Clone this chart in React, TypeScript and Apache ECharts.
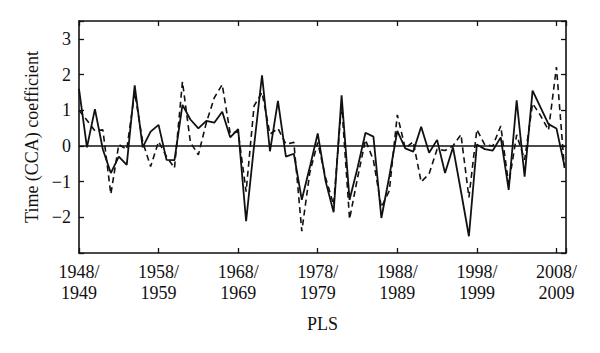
import React, { useEffect, useRef } from "react";
import * as echarts from "echarts";

const years: number[] = [];
for (let y = 1948; y <= 2009; y++) years.push(y);

const solidValues = [
  1.6, -0.04, 1.03, -0.1, -0.76, -0.3, -0.53, 1.7, -0.04, 0.4,
  0.59, -0.39, -0.4, 1.15, 0.74, 0.49, 0.7, 0.65, 0.96, 0.24,
  0.47, -2.11, 0.0, 1.98, -0.15, 1.26, -0.3, -0.22, -1.51, -0.6,
  0.35, -1.0, -1.86, 1.42, -1.51, -0.62, 0.37, 0.26, -2.02, -0.85,
  0.42, -0.07, -0.16, 0.54, -0.19, 0.17, -0.76, -0.04, -1.27, -2.53,
  0.04, -0.09, -0.13, 0.24, -1.23, 1.28, -0.86, 1.55, 1.08, 0.61,
  0.49, -0.55,
];

const dashedValues = [
  1.0, 0.72, 0.42, 0.45, -1.35, 0.04, -0.1, 1.5, 0.12, -0.58,
  0.12, -0.3, -0.62, 1.8, 0.1, -0.25, 0.65, 1.35, 1.72, 0.35,
  0.4, -1.28, 1.12, 1.5, 0.33, 0.49, 0.05, 0.1, -2.39, -0.75,
  0.1, -0.9, -1.65, 1.2, -2.05, -0.9, 0.17, -0.4, -1.72, -1.25,
  0.87, -0.07, 0.12, -1.01, -0.78, -0.09, -0.13, 0.0, 0.32, -1.44,
  0.46, 0.03, 0.0, 0.56, -1.08, 0.31, -0.39, 1.19, 0.85, 0.44,
  2.21, -0.62,
];

const xTickYears = [1948, 1958, 1968, 1978, 1988, 1998, 2008];
const yTickLabels = [-2, -1, 0, 1, 2, 3];

const FONT = "'Liberation Serif', 'Times New Roman', Times, serif";
const INK = "#111";

export default function App() {
  const ref = useRef<HTMLDivElement>(null);
  useEffect(() => {
    if (!ref.current) return;
    const chart = echarts.init(ref.current, null, { renderer: "svg" });
    const xBase = {
      type: "value",
      min: 1948,
      max: 2009.2,
      interval: 10,
      splitLine: { show: false },
      axisLine: { show: true, onZero: false, lineStyle: { color: INK, width: 1.6 } },
      axisTick: { show: true, inside: true, length: 5, lineStyle: { color: INK, width: 1.3 } },
    };
    const yBase = {
      type: "value",
      min: -3,
      max: 3.5,
      interval: 1,
      splitLine: { show: false },
      axisLine: { show: true, onZero: false, lineStyle: { color: INK, width: 1.6 } },
      axisTick: { show: true, inside: true, length: 5, lineStyle: { color: INK, width: 1.3 } },
    };
    chart.setOption({
      animation: false,
      backgroundColor: "#fff",
      grid: { left: 79, right: 34, top: 21, bottom: 100 },
      xAxis: [
        {
          ...xBase,
          position: "bottom",
          name: "PLS",
          nameLocation: "middle",
          nameGap: 62,
          nameTextStyle: { fontFamily: FONT, fontSize: 18, color: INK },
          axisLabel: {
            fontFamily: FONT,
            fontSize: 18,
            color: INK,
            margin: 8,
            lineHeight: 21,
            formatter: (v: number) =>
              xTickYears.includes(Math.round(v)) && Math.abs(v - Math.round(v)) < 1e-6
                ? `${Math.round(v)}/\n${Math.round(v) + 1}`
                : "",
          },
        },
        {
          ...xBase,
          position: "top",
          axisLabel: { show: false },
        },
      ],
      yAxis: [
        {
          ...yBase,
          position: "left",
          name: "Time (CCA) coefficient",
          nameLocation: "middle",
          nameGap: 36,
          nameTextStyle: { fontFamily: FONT, fontSize: 18, color: INK },
          axisLabel: {
            fontFamily: FONT,
            fontSize: 18,
            color: INK,
            margin: 8,
            formatter: (v: number) =>
              yTickLabels.includes(v) ? (v < 0 ? "\u2212" + Math.abs(v) : String(v)) : "",
          },
        },
        {
          ...yBase,
          position: "right",
          axisLabel: { show: false },
        },
      ],
      series: [
        {
          type: "line",
          data: years.map((y, i) => [y, solidValues[i]]),
          showSymbol: false,
          symbol: "none",
          lineStyle: { color: INK, width: 1.8 },
          markLine: {
            silent: true,
            symbol: ["none", "none"],
            label: { show: false },
            lineStyle: { color: INK, width: 1.5, type: "solid" },
            data: [{ yAxis: 0 }],
          },
        },
        {
          type: "line",
          data: years.map((y, i) => [y, dashedValues[i]]),
          showSymbol: false,
          symbol: "none",
          lineStyle: { color: INK, width: 1.6, type: [6, 4] },
        },
      ],
    });
    return () => chart.dispose();
  }, []);
  return (
    <div
      ref={ref}
      style={{ position: "fixed", left: 0, top: 0, width: 600, height: 353, background: "#fff" }}
    />
  );
}
